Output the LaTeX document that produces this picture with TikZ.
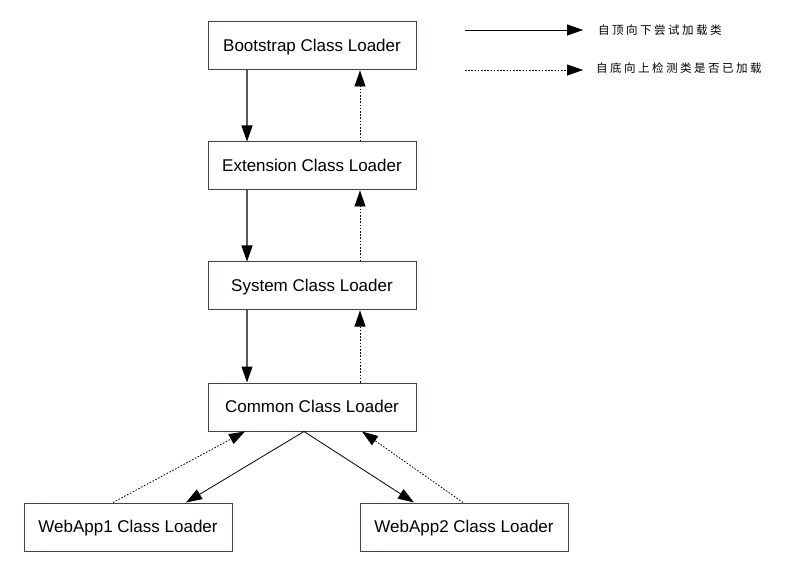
\documentclass[tikz,border=0pt]{standalone}
\usepackage{fontspec}
\setmainfont{Liberation Sans}
\newfontfamily\cjk{Noto Sans CJK SC}
\usetikzlibrary{arrows.meta}
\definecolor{boxline}{RGB}{85,55,75}
\definecolor{solidline}{RGB}{90,90,90}
\tikzset{
  loader/.style={draw=boxline, line width=1pt, fill=white, minimum width=208pt, minimum height=48pt, inner sep=0pt, text height=14pt, text depth=3.8pt, font=\fontsize{17}{20}\selectfont},
  tip/.style={-{Triangle[length=16pt,width=11pt,color=black,fill=black]}},
  down/.style={tip, draw=solidline, line width=1.1pt},
  up/.style={tip, draw=black, line width=0.8pt, dash pattern=on 1.6pt off 1.6pt},
  legtext/.style={anchor=west, font=\cjk\fontsize{11.5}{13}\selectfont, inner sep=0pt}
}
\begin{document}
\begin{tikzpicture}[x=1pt,y=-1pt]
\useasboundingbox (0,0) rectangle (795,569);
\node[loader] (boot) at (312,46) {Bootstrap Class Loader};
\node[loader] (ext) at (312,166) {Extension Class Loader};
\node[loader] (sys) at (312,286) {System Class Loader};
\node[loader] (com) at (312,407) {Common Class Loader};
\node[loader] (wa1) at (128,527) {WebApp1 Class Loader};
\node[loader] (wa2) at (464,527) {WebApp2 Class Loader};
% downward solid
\draw[down] (boot.south -| 247,0) -- (ext.north -| 247,0);
\draw[down] (ext.south -| 247,0) -- (sys.north -| 247,0);
\draw[down] (sys.south -| 247,0) -- (com.north -| 247,0);
% upward dotted
\draw[up] (ext.north -| 360,0) -- (boot.south -| 360,0);
\draw[up] (sys.north -| 360,0) -- (ext.south -| 360,0);
\draw[up] (com.north -| 360,0) -- (sys.south -| 360,0);
% common to webapps
\coordinate (cs) at (304,431.5);
\draw[tip, black, line width=0.8pt] (cs) -- (wa1.north -| 186,0);
\draw[tip, black, line width=0.8pt] (cs) -- (wa2.north -| 414,0);
\draw[up] (wa1.north -| 113,0) -- (com.south -| 245,0);
\draw[up] (wa2.north -| 463,0) -- (com.south -| 362,0);
% legend
\coordinate (l1a) at (465,30);
\coordinate (l1b) at (583,30);
\coordinate (l2a) at (465,70);
\coordinate (l2b) at (583,70);
\draw[tip, black, line width=0.8pt] (l1a) -- (l1b);
\draw[up] (l2a) -- (l2b);
\node[legtext] (t1) at (598,30) {自\hspace{2.5pt}顶\hspace{2.5pt}向\hspace{2.5pt}下\hspace{2.5pt}尝\hspace{2.5pt}试\hspace{2.5pt}加\hspace{2.5pt}载\hspace{2.5pt}类};
\node[legtext] (t2) at (596,68) {自\hspace{2.5pt}底\hspace{2.5pt}向\hspace{2.5pt}上\hspace{2.5pt}检\hspace{2.5pt}测\hspace{2.5pt}类\hspace{2.5pt}是\hspace{2.5pt}否\hspace{2.5pt}已\hspace{2.5pt}加\hspace{2.5pt}载};
\end{tikzpicture}
\end{document}
